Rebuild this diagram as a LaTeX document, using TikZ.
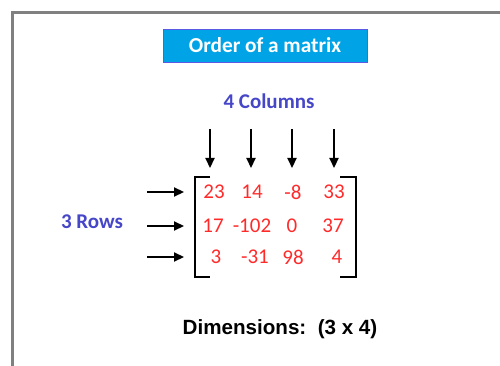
\documentclass[tikz,border=0pt]{standalone}
\usepackage{fontspec}
\setmainfont{Carlito}
\newfontfamily\arialfont{Liberation Sans}
\usetikzlibrary{arrows.meta}
\definecolor{framegray}{HTML}{808080}
\definecolor{titlecyan}{HTML}{00A4E6}
\definecolor{titleedge}{HTML}{5A5AE6}
\definecolor{labelblue}{HTML}{4646C8}
\definecolor{numred}{HTML}{FF2A2A}
\begin{document}
\begin{tikzpicture}[x=1pt,y=-1pt,
  frame/.style={draw=framegray,line width=3pt},
  titlebox/.style={fill=titlecyan,draw=titleedge,line width=0.8pt,minimum width=204pt,minimum height=33pt,inner sep=0pt,text=white,font=\fontsize{21.3}{24}\selectfont\bfseries},
  bluelabel/.style={text=labelblue,font=\fontsize{21}{24}\selectfont\bfseries,inner sep=0pt},
  entry/.style={text=numred,font=\fontsize{21}{24}\selectfont,inner sep=0pt,anchor=center},
  bracket/.style={draw=black,line width=2.2pt},
  arr/.style={draw=black,line width=2.2pt,-{Triangle[length=10pt,width=9pt]}},
  dimtext/.style={font=\arialfont\fontsize{20.6}{24}\selectfont\bfseries,inner sep=0pt}]
\useasboundingbox (0,0) rectangle (500,366);
% frame (partial: left and top)
\draw[frame] (12.5,367) -- (12.5,13) -- (501,13);
% title
\node[titlebox] (title) at (265,45.5) {Order of a matrix};
\node[bluelabel] (cols) at (269,101) {4 Columns};
\node[bluelabel] (rows) at (92,222) {3 Rows};
% matrix entries
\node[entry] (e11) at (214,192) {23};
\node[entry] (e12) at (252,192) {14};
\node[entry] (e13) at (293,192) {-8};
\node[entry] (e14) at (334,192) {33};
\node[entry] (e21) at (213,226) {17};
\node[entry] (e22) at (252,226) {-102};
\node[entry] (e23) at (292,226) {0};
\node[entry] (e24) at (333,226) {37};
\node[entry] (e31) at (216,257) {3};
\node[entry] (e32) at (255,257) {-31};
\node[entry] (e33) at (293,257) {98};
\node[entry] (e34) at (337,257) {4};
% brackets
\draw[bracket] (210,177) -- (195,177) -- (195,277) -- (210,277);
\draw[bracket] (340,177) -- (356,177) -- (356,277) -- (340,277);
% column arrows
\coordinate (c1s) at (210,129); \coordinate (c1e) at (210,168);
\coordinate (c2s) at (251,129); \coordinate (c2e) at (251,168);
\coordinate (c3s) at (292,129); \coordinate (c3e) at (292,168);
\coordinate (c4s) at (334,129); \coordinate (c4e) at (334,168);
\draw[arr] (c1s) -- (c1e);
\draw[arr] (c2s) -- (c2e);
\draw[arr] (c3s) -- (c3e);
\draw[arr] (c4s) -- (c4e);
% row arrows
\coordinate (r1s) at (147,192); \coordinate (r1e) at (184,192);
\coordinate (r2s) at (147,226); \coordinate (r2e) at (184,226);
\coordinate (r3s) at (147,257); \coordinate (r3e) at (184,257);
\draw[arr] (r1s) -- (r1e);
\draw[arr] (r2s) -- (r2e);
\draw[arr] (r3s) -- (r3e);
% dimensions
\node[dimtext] (dims) at (280,329) {Dimensions:\ \ (3 x 4)};
\end{tikzpicture}
\end{document}
